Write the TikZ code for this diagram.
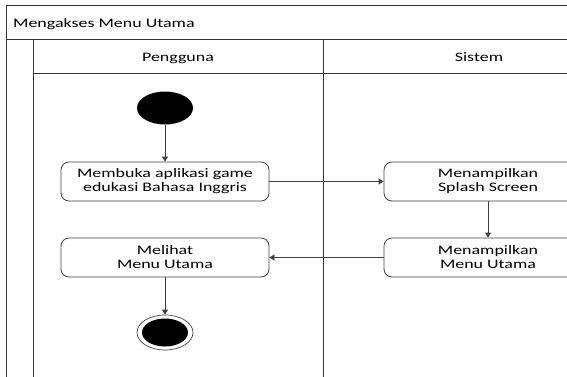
\documentclass[tikz,border=0pt]{standalone}
\usepackage{fontspec}
\setmainfont{Carlito}[FakeStretch=1.38]
\usetikzlibrary{arrows.meta,shapes.geometric}
\begin{document}
\begin{tikzpicture}[x=1pt,y=-1pt,
  lane/.style={draw=black!80, line width=0.9pt},
  act/.style={draw=black!75, line width=0.8pt, rounded corners=8pt,
    minimum width=208pt, minimum height=39pt, align=center,
    font=\fontsize{13}{14}\selectfont, inner sep=0pt},
  flow/.style={draw=black!75, line width=0.8pt, -{Triangle[length=5pt,width=6pt]}},
  lbl/.style={font=\fontsize{13}{14}\selectfont, inner sep=0pt},
  ]
\useasboundingbox (0,0) rectangle (567,376);
\clip (0,0) rectangle (567,376);
% frame
\draw[lane] (6,380) -- (6,5) -- (570,5);
\draw[lane] (6,39) -- (570,39);
\draw[lane] (33,39) -- (33,380);
\draw[lane] (33,73) -- (570,73);
\draw[lane] (323,39) -- (323,380);
% labels
\node[lbl, anchor=base west] (title) at (13,27) {Mengakses Menu Utama};
\node[lbl, anchor=base] (pengguna) at (178,61) {Pengguna};
\node[lbl, anchor=base] (sistem) at (479,61) {Sistem};
% nodes
\node[ellipse, fill=black, minimum width=56pt, minimum height=33pt, inner sep=0pt] (start) at (165,108) {};
\node[act] (a1) at (165,181.5) {Membuka aplikasi game\\edukasi Bahasa Inggris};
\node[act] (s1) at (488,181.5) {Menampilkan\\Splash Screen};
\node[act] (s2) at (488,257.5) {Menampilkan\\Menu Utama};
\node[act] (m) at (165,257.5) {Melihat\\Menu Utama};
\node[ellipse, draw=black!75, line width=0.7pt, minimum width=56pt, minimum height=35pt, inner sep=0pt] (end) at (165,332.5) {};
\node[ellipse, fill=black, minimum width=46pt, minimum height=28pt, inner sep=0pt] (endin) at (end) {};
% flows
\draw[flow] (start) -- (a1);
\draw[flow] (a1) -- (s1);
\draw[flow] (s1) -- (s2);
\draw[flow] (s2) -- (m);
\draw[flow] (m) -- (end);
\end{tikzpicture}
\end{document}
